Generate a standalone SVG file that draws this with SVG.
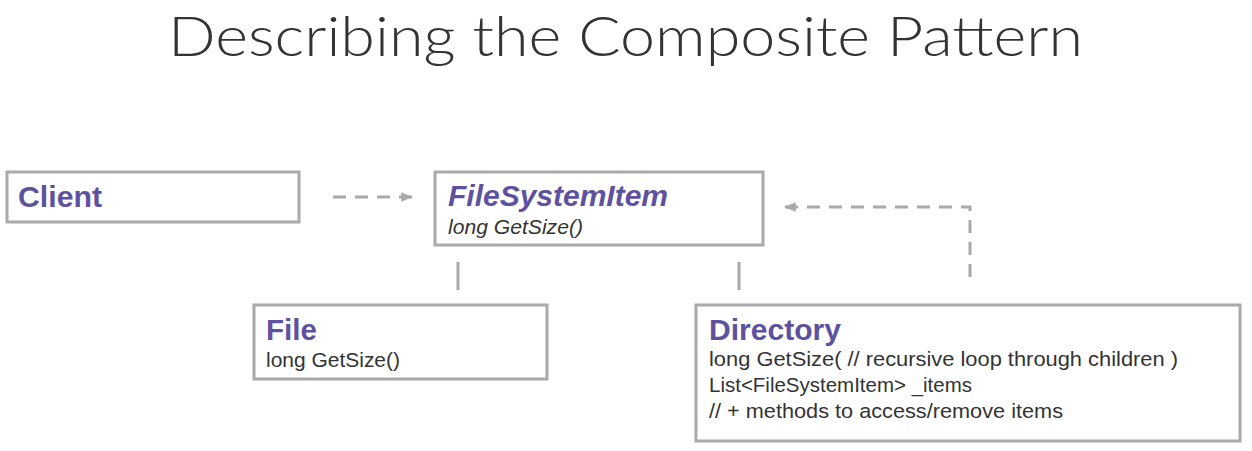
<svg xmlns="http://www.w3.org/2000/svg" width="1252" height="451" viewBox="0 0 1252 451">
<defs>
<style>
.box{fill:#fff;stroke:#aaaaaa;stroke-width:3}
.name{font-family:"Liberation Sans",Arial,sans-serif;font-weight:bold;font-size:30px;fill:#5e52a0}
.txt{font-family:"Liberation Sans",Arial,sans-serif;font-size:20.5px;fill:#333}
.conn{fill:none;stroke:#aaaaaa;stroke-width:3}
.dash{stroke-dasharray:13 9}
.title{font-family:Lato,Roboto,"Liberation Sans",sans-serif;font-weight:300;font-size:56px;fill:#333}
</style>
<marker id="arr" viewBox="0 0 10 10" refX="9" refY="5" markerWidth="4" markerHeight="4" orient="auto" markerUnits="strokeWidth">
<path d="M0,1 L10,5 L0,9 z" fill="#aaaaaa"/>
</marker>
</defs>
<rect width="1252" height="451" fill="#fff"/>
<text class="title" x="168" y="56" textLength="915" lengthAdjust="spacingAndGlyphs">Describing the Composite Pattern</text>
<g id="client">
<rect class="box" x="7" y="172" width="292" height="50"/>
<text class="name" x="18" y="207" textLength="84" lengthAdjust="spacingAndGlyphs">Client</text>
</g>
<g id="filesystemitem">
<rect class="box" x="435" y="172" width="328" height="73"/>
<text class="name" x="448" y="206" font-style="italic" textLength="220" lengthAdjust="spacingAndGlyphs">FileSystemItem</text>
<text class="txt" x="448" y="234" font-style="italic" textLength="135" lengthAdjust="spacingAndGlyphs">long GetSize()</text>
</g>
<g id="file">
<rect class="box" x="254" y="305" width="293" height="74"/>
<text class="name" x="266" y="340" textLength="51" lengthAdjust="spacingAndGlyphs">File</text>
<text class="txt" x="266" y="367" textLength="134" lengthAdjust="spacingAndGlyphs">long GetSize()</text>
</g>
<g id="directory">
<rect class="box" x="696" y="305" width="544" height="136"/>
<text class="name" x="709" y="340" textLength="132" lengthAdjust="spacingAndGlyphs">Directory</text>
<text class="txt" x="709" y="366" textLength="469" lengthAdjust="spacingAndGlyphs">long GetSize( // recursive loop through children )</text>
<text class="txt" x="709" y="392" textLength="263" lengthAdjust="spacingAndGlyphs">List&lt;FileSystemItem&gt; _items</text>
<text class="txt" x="709" y="418" textLength="354" lengthAdjust="spacingAndGlyphs">// + methods to access/remove items</text>
</g>
<g id="connectors">
<line class="conn dash" x1="333" y1="197" x2="412" y2="197" marker-end="url(#arr)"/>
<line class="conn" x1="458" y1="262" x2="458" y2="290"/>
<line class="conn" x1="739" y1="262" x2="739" y2="290"/>
<polyline class="conn dash" points="970,277 970,207 785,207" marker-end="url(#arr)"/>
</g>
</svg>
